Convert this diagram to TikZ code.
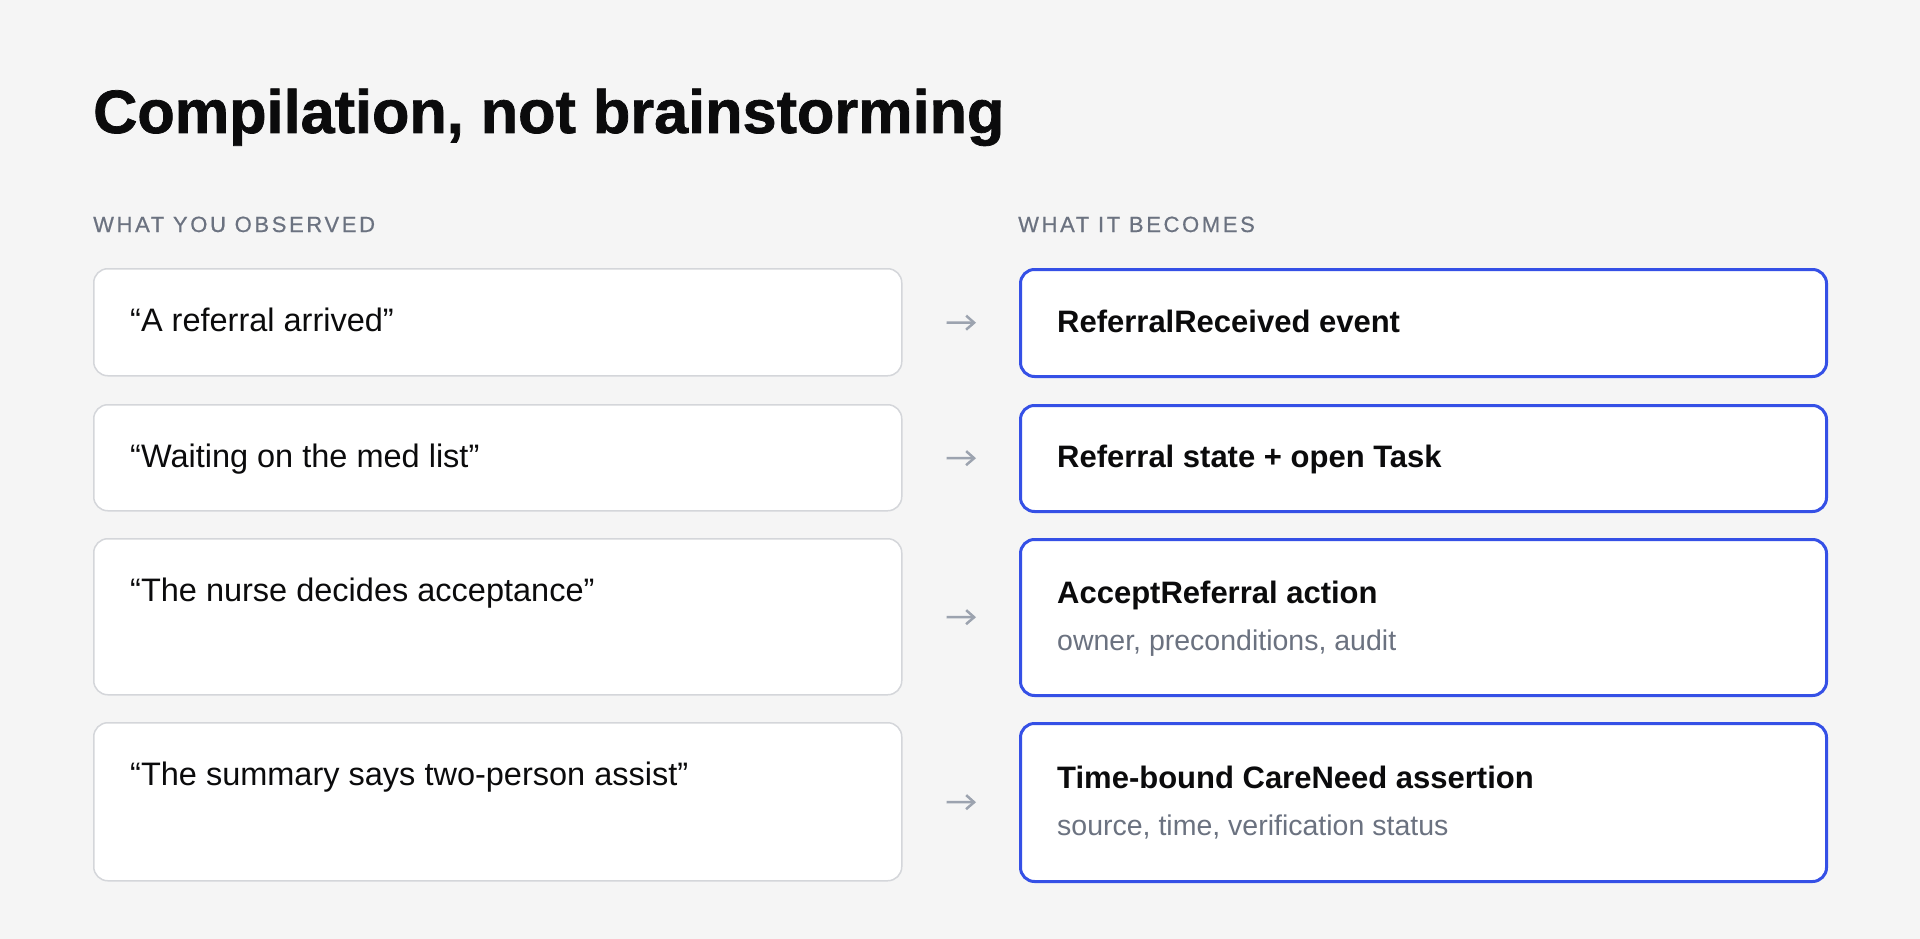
\documentclass[tikz,border=0pt]{standalone}
\usepackage{fontspec}
\setmainfont{Liberation Sans}
\newfontfamily\hdrfont[LetterSpace=12,FakeBold=0.6]{Liberation Sans}
\newfontfamily\titlefont[FakeBold=1.2]{Liberation Sans Bold}
\usetikzlibrary{arrows.meta}
\definecolor{bgc}{HTML}{F5F5F5}
\definecolor{ink}{HTML}{0B0B0C}
\definecolor{muted}{HTML}{6B7280}
\definecolor{lborder}{HTML}{D4D6DA}
\definecolor{accent}{HTML}{3550E6}
\definecolor{arrowc}{HTML}{9CA3AF}
\tikzset{
  lbox/.style={draw=lborder, line width=1.5pt, fill=white, rounded corners=14pt, anchor=north west, inner sep=0pt, minimum width=808pt},
  rbox/.style={draw=accent, line width=3pt, fill=white, rounded corners=14pt, anchor=north west, inner sep=0pt, minimum width=806pt},
  txt/.style={anchor=base west, inner sep=0pt, text=ink},
  ltxt/.style={txt, font=\fontsize{32.5}{38}\selectfont},
  rtxt/.style={txt, font=\fontsize{31}{36}\selectfont\bfseries},
  stxt/.style={txt, text=muted, font=\fontsize{28.5}{34}\selectfont},
  hdr/.style={anchor=base west, inner sep=0pt, text=muted, font=\fontsize{22}{26}\selectfont\hdrfont},
  conn/.style={draw=arrowc, line width=2.5pt, -{Straight Barb[length=8pt,width=14pt]}, shorten <=44pt, shorten >=43pt}
}
\begin{document}
\begin{tikzpicture}[x=1pt,y=-1pt]
\fill[bgc] (0,0) rectangle (1920,939);
\useasboundingbox (0,0) rectangle (1920,939);

\node[txt, font=\fontsize{61.2}{70}\selectfont\titlefont] (title) at (93,133) {Compilation, not brainstorming};

\node[hdr] (hl) at (93,232) {WHAT YOU OBSERVED};
\node[hdr] (hr) at (1018,232) {WHAT IT BECOMES};

% left boxes
\node[lbox, minimum height=107pt] (l1) at (93,268) {};
\node[lbox, minimum height=106pt] (l2) at (93,404) {};
\node[lbox, minimum height=156pt] (l3) at (93,538) {};
\node[lbox, minimum height=158pt] (l4) at (93,722) {};

% right boxes
\node[rbox, minimum height=107pt] (r1) at (1019,268) {};
\node[rbox, minimum height=106pt] (r2) at (1019,404) {};
\node[rbox, minimum height=156pt] (r3) at (1019,538) {};
\node[rbox, minimum height=158pt] (r4) at (1019,722) {};

% left texts
\node[ltxt] (lt1) at (130,331) {“A referral arrived”};
\node[ltxt] (lt2) at (130,467) {“Waiting on the med list”};
\node[ltxt] (lt3) at (130,601) {“The nurse decides acceptance”};
\node[ltxt] (lt4) at (130,785) {“The summary says two-person assist”};

% right texts
\node[rtxt] (rt1) at (1057,332) {ReferralReceived event};
\node[rtxt] (rt2) at (1057,467) {Referral state + open Task};
\node[rtxt] (rt3) at (1057,603) {AcceptReferral action};
\node[stxt] (rs3) at (1057,650) {owner, preconditions, audit};
\node[rtxt] (rt4) at (1057,788) {Time-bound CareNeed assertion};
\node[stxt] (rs4) at (1057,835) {source, time, verification status};

% connectors
\draw[conn] (l1.east) -- (r1.west);
\draw[conn] (l2.east) -- (r2.west);
\draw[conn] (l3.east) -- (r3.west);
\draw[conn] (l4.east) -- (r4.west);
\end{tikzpicture}
\end{document}
